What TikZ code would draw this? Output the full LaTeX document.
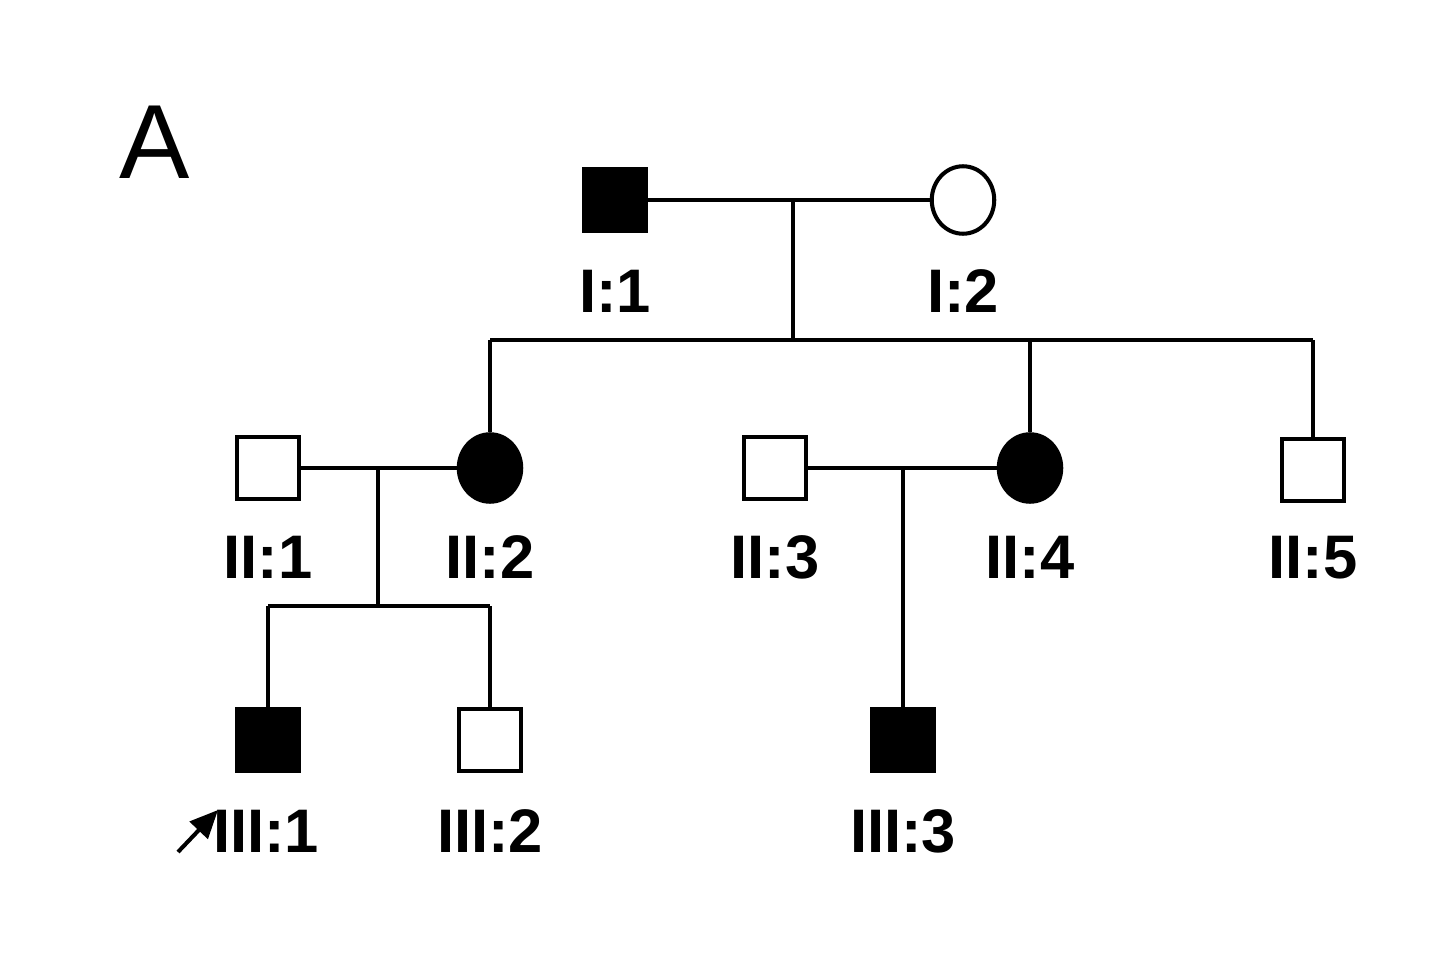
\documentclass[tikz,border=0pt]{standalone}
\usepackage{fontspec}
\setmainfont{Liberation Sans}
\usetikzlibrary{arrows.meta, shapes.geometric}
\tikzset{
    person/.style={draw, line width=2.3pt, minimum size=1.25cm, inner sep=0},
    male/.style={person, rectangle},
    female/.style={person, ellipse, minimum width=1.25cm, minimum height=1.35cm},
    affected/.style={fill=black},
    id label/.style={anchor=base, font=\fontsize{35}{40}\selectfont\bfseries},
    pedline/.style={line width=2.3pt},
}
\begin{document}
\begin{tikzpicture}[x=0.02cm, y=-0.02cm]
    \useasboundingbox (0,0) rectangle (1440,956);

    \node[font=\fontsize{60}{64}\selectfont] (panel) at (155,142) {A};

    % generation I
    \node[male, affected] (i1) at (615,200) {};
    \node[female] (i2) at (963,200) {};
    % generation II
    \node[male] (ii1) at (268,468) {};
    \node[female, affected] (ii2) at (490,468) {};
    \node[male] (ii3) at (775,468) {};
    \node[female, affected] (ii4) at (1030,468) {};
    \node[male] (ii5) at (1313,470) {};
    % generation III
    \node[male, affected] (iii1) at (268,740) {};
    \node[male] (iii2) at (490,740) {};
    \node[male, affected] (iii3) at (903,740) {};

    % labels
    \node[id label] (li1) at (615,312) {I:1};
    \node[id label] (li2) at (963,312) {I:2};
    \node[id label] (lii1) at (268,578) {II:1};
    \node[id label] (lii2) at (490,578) {II:2};
    \node[id label] (lii3) at (775,578) {II:3};
    \node[id label] (lii4) at (1030,578) {II:4};
    \node[id label] (lii5) at (1313,578) {II:5};
    \node[id label] (liii1) at (266,852) {III:1};
    \node[id label] (liii2) at (490,852) {III:2};
    \node[id label] (liii3) at (903,852) {III:3};

    % connectors
    \coordinate (m1) at (793,200);
    \coordinate (s1) at (793,340);
    \coordinate (s1l) at (490,340);
    \coordinate (s1m) at (1030,340);
    \coordinate (s1r) at (1313,340);
    \draw[pedline] (i1) -- (i2);
    \draw[pedline] (m1) -- (s1);
    \draw[pedline] (s1l) -- (s1r);
    \draw[pedline] (s1l) -- (ii2);
    \draw[pedline] (s1m) -- (ii4);
    \draw[pedline] (s1r) -- (ii5);

    \coordinate (m2) at (378,468);
    \coordinate (s2) at (378,606);
    \coordinate (s2l) at (268,606);
    \coordinate (s2r) at (490,606);
    \draw[pedline] (ii1) -- (ii2);
    \draw[pedline] (m2) -- (s2);
    \draw[pedline] (s2l) -- (s2r);
    \draw[pedline] (s2l) -- (iii1);
    \draw[pedline] (s2r) -- (iii2);

    \coordinate (m3) at (903,468);
    \draw[pedline] (ii3) -- (ii4);
    \draw[pedline] (m3) -- (iii3);

    % proband arrow
    \coordinate (pa) at (178,852);
    \coordinate (pb) at (218,810);
    \draw[pedline, -{Triangle[length=16pt, width=14pt]}] (pa) -- (pb);
\end{tikzpicture}
\end{document}
